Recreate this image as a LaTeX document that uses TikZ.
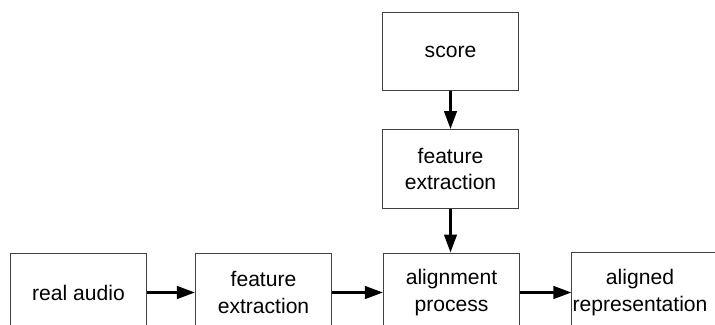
\documentclass[tikz,border=0pt]{standalone}
\usepackage{fontspec}
\setmainfont{Liberation Sans}
\usetikzlibrary{arrows.meta}

\begin{document}
\begin{tikzpicture}[x=0.025cm, y=-0.025cm,
  blockbox/.style={draw=black!75, line width=0.7pt, rectangle, minimum width=3.4cm, minimum height=1.97cm, align=center, inner sep=0pt, font=\fontsize{15}{19}\selectfont},
  flowarrow/.style={line width=2.1pt, -{Triangle[length=0.45cm, width=0.31cm]}}]
\useasboundingbox (0,0) rectangle (715,324);

% upper column
\node[blockbox] (score) at (450.5,51.5) {score};
\node[blockbox] (fe1) at (450.5,169) {feature\\extraction};

% lower row
\def\y{292.5}
\node[blockbox] (audio) at (78.5,\y) {real audio};
\node[blockbox] (fe2) at (263.5,\y) {feature\\extraction};
\node[blockbox] (align) at (451.5,\y) {alignment\\process};
\node[blockbox, draw=none] (rep) at (640,\y) {aligned\\representation};
\coordinate (repend) at (760,\y);
\draw[draw=black!75, line width=0.7pt] (rep.south west) -- (rep.north west) -- (rep.north west -| repend);

% arrows
\draw[flowarrow] (score) -- (fe1);
\draw[flowarrow] (fe1.south) -- (fe1.south |- align.north);
\foreach \a/\b in {audio/fe2, fe2/align, align/rep} {
\draw[flowarrow] (\a) -- (\b);
}
\end{tikzpicture}
\end{document}
